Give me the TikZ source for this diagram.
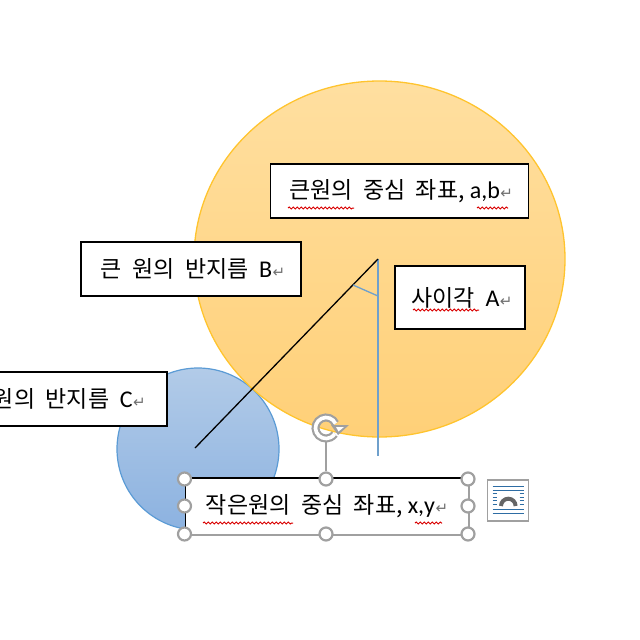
\documentclass[tikz,border=0pt]{standalone}
\usepackage{fontspec}
\setmainfont{Carlito}
\newfontfamily\ko{Noto Sans CJK KR}
\newfontfamily\dv{DejaVu Sans}
\usetikzlibrary{decorations.pathmorphing}
\definecolor{retgray}{HTML}{707070}
\definecolor{ringgray}{HTML}{A0A0A0}
\definecolor{iconblue}{HTML}{2E6DA4}
\definecolor{linkblue}{HTML}{6FA0CC}
\newcommand{\ret}{\hspace{0.5pt}{\dv\fontsize{15}{15}\selectfont\textcolor{retgray}{↵}}}
\newcommand{\gap}{\hspace{10.5pt}}
\newcommand{\lat}[1]{{\rmfamily\fontsize{24}{24}\selectfont #1}}
\tikzset{
  lab/.style={draw=black,line width=1.5pt,fill=white,inner sep=0pt,align=center,
    font=\ko\fontsize{23}{24}\selectfont,text=black},
  squig/.style={draw=red!85!black,line width=1pt,decorate,decoration={snake,amplitude=1pt,segment length=4pt}},
  grip/.style={circle,draw=ringgray,line width=2.2pt,fill=white,minimum size=13pt,inner sep=0pt},
  sel/.style={draw=ringgray,line width=1.5pt},
  radius line/.style={line width=1.3pt,draw=black},
  bluelink/.style={line width=1.3pt,draw=linkblue},
  iconline/.style={draw=iconblue,line width=1pt},
}
\begin{document}
\begin{tikzpicture}[x=1pt,y=-1pt]
\useasboundingbox (0,0) rectangle (640,640);
\clip (0,0) rectangle (640,640);
% circles
\path[top color={rgb,255:red,178;green,203;blue,232},bottom color={rgb,255:red,140;green,178;blue,224},draw={rgb,255:red,91;green,155;blue,213},line width=1.2pt]
  (198,449) circle[radius=81];
\path[top color={rgb,255:red,255;green,223;blue,160},bottom color={rgb,255:red,255;green,208;blue,120},draw={rgb,255:red,255;green,196;blue,46},line width=1.3pt]
  (379.5,259) ellipse[x radius=185.5,y radius=178];
% connectors
\coordinate (apex) at (378,259);
\coordinate (cLow) at (195,448);
\coordinate (vLow) at (378,456);
\coordinate (mA) at (353,285);
\coordinate (mB) at (378,296);
\draw[bluelink] (apex) -- (vLow);
\draw[radius line] (apex) -- (cLow);
\draw[bluelink] (mA) -- (mB);
% labels
\node[lab,minimum width=258pt,minimum height=54pt] (big) at (399.5,191) {\raisebox{-2pt}{\hspace{3pt}큰원의\gap 중심\gap 좌표, \lat{a,b}\ret}};
\node[lab,minimum width=220pt,minimum height=54pt] (rb) at (191,269) {\raisebox{-1pt}{\hspace{4pt}큰\gap 원의\gap 반지름\gap \lat{B}\ret}};
\node[lab,minimum width=130pt,minimum height=63pt] (ang) at (460,297.5) {\raisebox{2pt}{\hspace{4pt}사이각\gap \lat{A}\ret}};
\node[lab,minimum width=176pt,text width=172pt,align=right,inner xsep=0pt,minimum height=54pt] (rc) at (79,399) {\raisebox{-1pt}{원의\gap 반지름\gap \lat{C}\ret\hspace{35pt}}};
% squiggles
\coordinate (s1a) at (288,208); \coordinate (s1b) at (354,208);
\coordinate (s2a) at (477,208); \coordinate (s2b) at (508,208);
\coordinate (s3a) at (413,310); \coordinate (s3b) at (479,310);
\draw[squig] (s1a) -- (s1b);
\draw[squig] (s2a) -- (s2b);
\draw[squig] (s3a) -- (s3b);
% selected box
\node[lab,draw=none,minimum width=282pt,minimum height=55pt] (small) at (327,506.5) {\raisebox{-2pt}{작은원의\gap 중심\gap 좌표, \lat{x,y}\ret}};
\draw[black,line width=2pt] (small.north west) -- (small.north east);
\draw[black,line width=1.5pt] (small.north west) -- (small.south west);
\draw[sel] (small.north east) -- (small.south east) -- (small.south west);
\coordinate (s4a) at (203,523); \coordinate (s4b) at (293,523);
\coordinate (s5a) at (415,523); \coordinate (s5b) at (442,523);
\draw[squig] (s4a) -- (s4b);
\draw[squig] (s5a) -- (s5b);
% grips
\node[grip] (g1) at (184.5,479) {};
\node[grip] (g2) at (326,479) {};
\node[grip] (g3) at (468,479) {};
\node[grip] (g4) at (184.5,506) {};
\node[grip] (g5) at (468,506) {};
\node[grip] (g6) at (184.5,534) {};
\node[grip] (g7) at (326,534) {};
\node[grip] (g8) at (468,534) {};
% rotation handle
\coordinate (rot) at (326,428);
\draw[sel] (rot) ++(0,14) -- (g2);
\draw[ringgray,line width=8pt] (rot) ++(-25:10.5) arc[start angle=-25,end angle=-325,radius=10.5];
\draw[white,line width=3.6pt] (rot) ++(-25:10.5) arc[start angle=-25,end angle=-325,radius=10.5];
\path[fill=ringgray] (331,425) -- (349,425) -- (338,435) -- cycle;
\path[fill=white] (336,427) -- (344,427) -- (338.5,431.5) -- cycle;
% layout icon
\node[draw=ringgray,line width=1.2pt,fill=white,minimum width=41pt,minimum height=41pt,inner sep=0pt] (ico) at (508,500.5) {};
\draw[iconline] (492.7,486.7) -- (524,486.7);
\draw[iconline] (492.7,490) -- (524,490);
\foreach \yy in {493.5,497,500.7,504.7}{
  \draw[iconline] (492.7,\yy) -- (497,\yy);
  \draw[iconline] (519.5,\yy) -- (524,\yy);
}
\draw[iconline] (492.7,509) -- (524,509);
\draw[iconline] (492.7,513) -- (524,513);
\draw[black!60,line width=4pt] (501,506) arc[start angle=180,end angle=360,radius=7.3];
\end{tikzpicture}
\end{document}
